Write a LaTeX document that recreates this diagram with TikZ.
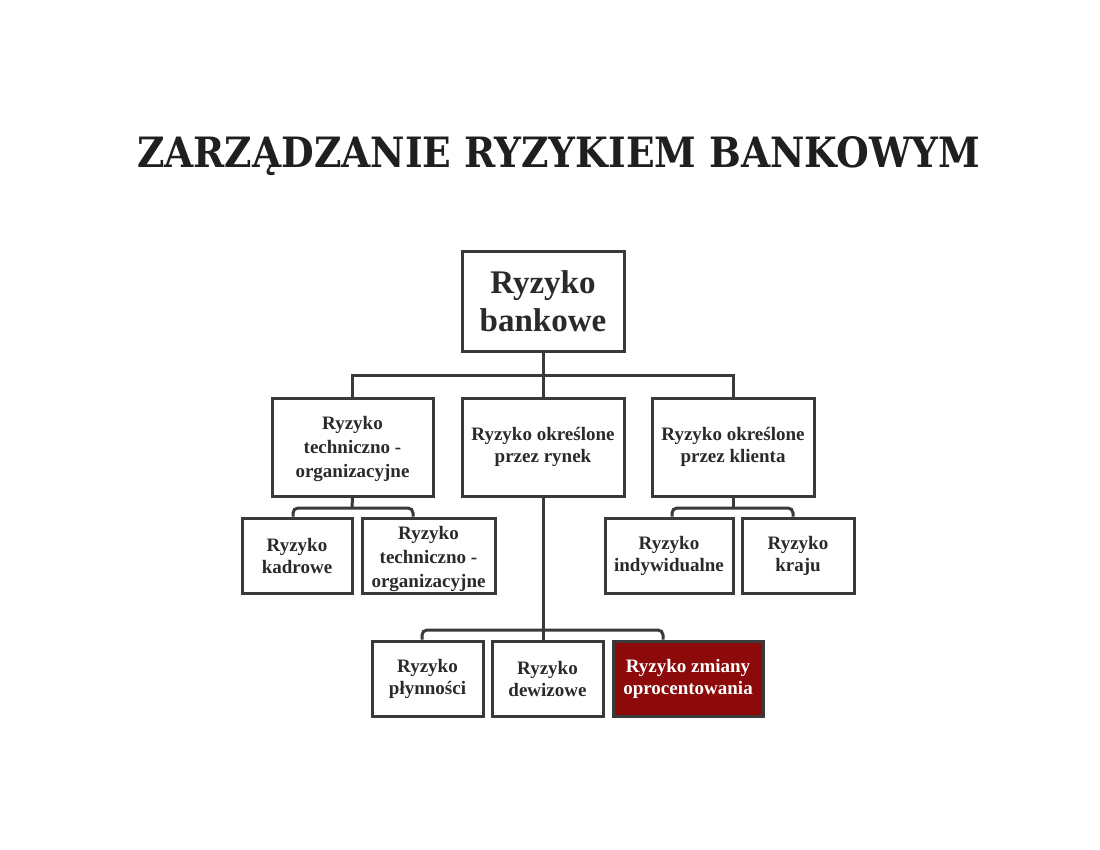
\documentclass[tikz,border=0pt]{standalone}
\usepackage{fontspec}
\setmainfont{Liberation Serif}
\newfontfamily\titlefont{DejaVu Serif}
\usepackage{graphicx}
\definecolor{boxline}{HTML}{3A3A3A}
\definecolor{txt}{HTML}{2A2A2A}
\definecolor{darkred}{HTML}{8C0A0A}
\tikzset{
  box/.style={draw=boxline, line width=3pt, fill=white, align=center, inner sep=2pt,
    font=\bfseries\fontsize{19}{22}\selectfont, text=txt},
  bigbox/.style={box, font=\bfseries\fontsize{33}{38}\selectfont},
  plain/.style={align=center, inner sep=0pt, font=\bfseries\fontsize{19}{24}\selectfont, text=txt},
  conn/.style={draw=boxline, line width=3pt},
  elbow/.style={conn, rounded corners=5pt}
}
\begin{document}
\begin{tikzpicture}[x=1pt,y=-1pt]
\useasboundingbox[fill=white] (0,0) rectangle (1100,850);
\node[anchor=base, inner sep=0pt, text=black!88] (title) at (558.5,168)
  {\resizebox{843pt}{31pt}{\titlefont\bfseries ZARZĄDZANIE RYZYKIEM BANKOWYM}};
% boxes
\node[bigbox, minimum width=162pt, minimum height=99pt] (top) at (543,301.5) {Ryzyko\\bankowe};
\node[box, minimum width=161pt, minimum height=98pt] (l2a) at (352.5,447) {};
\node[plain] (l2at) at (352.5,449) {Ryzyko\\techniczno -\\organizacyjne};
\node[box, minimum width=162pt, minimum height=98pt] (l2b) at (543,447) {Ryzyko określone\\przez rynek};
\node[box, minimum width=162pt, minimum height=98pt] (l2c) at (733,447) {Ryzyko określone\\przez klienta};
\node[box, minimum width=110pt, minimum height=75pt] (s1) at (297,555.5) {Ryzyko\\kadrowe};
\node[box, minimum width=133pt, minimum height=75pt] (s2) at (428.5,555.5) {};
\node[plain] (s2t) at (428.5,559) {Ryzyko\\techniczno -\\organizacyjne};
\node[box, minimum width=128pt, minimum height=75pt] (s3) at (669,555.5) {Ryzyko\\indywidualne};
\node[box, minimum width=112pt, minimum height=75pt] (s4) at (798,555.5) {Ryzyko\\kraju};
\node[box, minimum width=111pt, minimum height=75pt] (b1) at (427.5,678.5) {Ryzyko\\płynności};
\node[box, minimum width=111pt, minimum height=75pt] (b2) at (547.5,678.5) {Ryzyko\\dewizowe};
\node[box, minimum width=150pt, minimum height=75pt, fill=darkred, text=white] (b3) at (688,678.5) {Ryzyko zmiany\\oprocentowania};
% junction coordinates
\coordinate (r1) at (543,375);
\coordinate (r2) at (352,508);
\coordinate (r2a) at (293,516.5);
\coordinate (r2b) at (413,516.5);
\coordinate (r3) at (733,508);
\coordinate (r3a) at (672,516.5);
\coordinate (r3b) at (793,516.5);
\coordinate (r4) at (543,630);
\coordinate (r4a) at (422,639.5);
\coordinate (r4b) at (663,639.5);
% connectors
\draw[conn] (top.south) -- (r1 |- l2b.north);
\draw[conn] (l2a.north) |- (r1) -| (l2c.north);
\draw[conn] (l2a.south) -- (r2);
\draw[elbow] (r2a) |- (r2) -| (r2b);
\draw[conn] (l2c.south) -- (r3);
\draw[elbow] (r3a) |- (r3) -| (r3b);
\draw[conn] (l2b.south) -- (r4 |- b2.north);
\draw[elbow] (r4a) |- (r4) -| (r4b);
\end{tikzpicture}
\end{document}
